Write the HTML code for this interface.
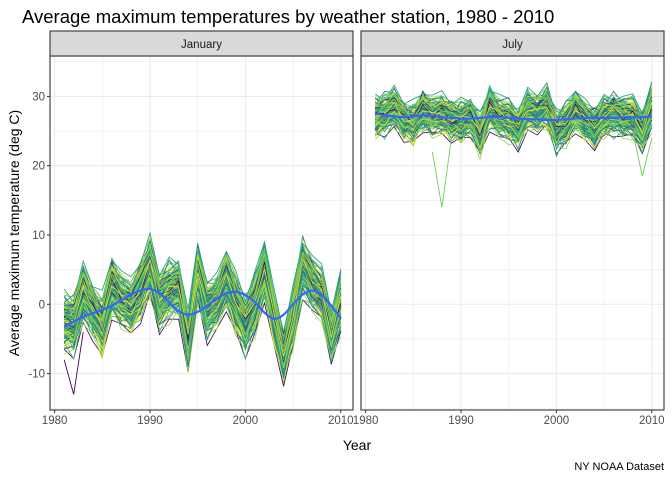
<!DOCTYPE html>
<html><head><meta charset="utf-8"><style>
body{margin:0;background:#fff;}
svg{display:block;font-family:"Liberation Sans",sans-serif;}
</style></head><body>
<svg id="chart" width="672" height="480" viewBox="0 0 672 480">
<rect width="672" height="480" fill="#fff"/>
<text x="22" y="23" font-size="18.5" fill="#000">Average maximum temperatures by weather station, 1980 - 2010</text>
<g id="panels"></g>
<text transform="translate(19,233) rotate(-90)" text-anchor="middle" font-size="14" fill="#000">Average maximum temperature (deg C)</text>
<text x="357" y="450" text-anchor="middle" font-size="14" fill="#000">Year</text>
<text x="664" y="470" text-anchor="end" font-size="11" fill="#000">NY NOAA Dataset</text>
</svg>
<script>
const years = [1981,1982,1983,1984,1985,1986,1987,1988,1989,1990,1991,1992,1993,1994,1995,1996,1997,1998,1999,2000,2001,2002,2003,2004,2005,2006,2007,2008,2009,2010];
const janMean = [-2.6,-3,1.7,-1,-3.2,2.6,0.5,-0.3,2,5.5,0.3,2,2.5,-5.5,4.5,-0.8,0.3,3.6,0,-3,0,5,-2,-7.5,-2,5.5,3,1.5,-4.5,0.3];
const julMean = [27,27.5,28.5,26.5,26,28,27,27.5,26.5,26.5,27,24.5,28.5,27,26.5,25.5,28,27.5,28.5,25,26,28,26.5,25.5,27,27.5,27,27,25,28.5];
const janSmooth = [-3.2,-2.5,-1.8,-1.3,-0.8,-0.2,0.6,1.4,2,2.2,1.6,0.3,-1,-1.5,-1.1,-0.2,0.8,1.6,1.8,1.3,0.3,-1.2,-2.1,-1.5,0,1.4,2,1.4,-0.2,-2];
const julSmooth = [27.5,27.3,27.1,27,27.1,27.3,27.2,27,26.9,26.8,26.8,26.9,27,27,26.9,26.8,26.7,26.7,26.6,26.6,26.7,26.8,26.9,26.9,26.9,26.9,27,27,27,27.1];
const janSpread = [4.5,4.5,4.5,4,4.5,4.5,4,4,4.5,4.5,4.5,4.5,4,4.5,4,4.5,4,4.5,4.5,4.5,4.5,4.5,4,4,4.5,4.5,4,4,4,4.5];
const julSpread = [3,3,3,2.8,2.8,2.9,2.8,3,2.9,3,2.8,2.9,3,3,2.8,2.9,3,2.9,3.1,3,2.9,3.1,2.9,3,2.9,3,2.9,3,3.1,3.2];
const yearAlt = [1,-1,0.5,-0.5,1,-1,1,0.5,-1,1,-0.5,1,-1,0.5,1,-1,0.5,-0.5,1,-1,1,-0.5,0.5,-1,1,-1,0.5,1,-0.5,1];
const stationOffset = [-1,-0.9,-0.8,-0.75,-0.7,-0.62,-0.55,-0.5,-0.45,-0.4,-0.36,-0.3,-0.26,-0.22,-0.18,-0.14,-0.1,-0.06,-0.02,0.02,0.05,0.08,0.12,0.15,0.18,0.22,0.25,0.28,0.32,0.36,0.4,0.44,0.48,0.52,0.56,0.6,0.65,0.7,0.76,0.82,0.88,0.95,-0.33,0.1,0.3,-0.6,0.45,-0.15,0.2,0.62];
const stationWobble = [0.4,-0.6,0.8,-0.3,0.5,-0.9,0.2,0.7,-0.5,0.3,-0.8,0.6,-0.2,0.9,-0.4,0.1,-0.7,0.5,-0.1,0.8,-0.6,0.3,-0.9,0.4,0.7,-0.3,0.2,-0.5,0.6,-0.8,0.1,0.9,-0.4,0.3,-0.7,0.5,-0.2,0.8,-0.6,0.4,-0.1,0.6,-1,1,-0.8,0.9,-0.9,0.7,-0.7,1];
const janOutlier = [[1981,-8],[1982,-13],[1983,-4]];
const julOutlier = [[1987,22],[1988,14],[1989,24]];
const julOutlier2 = [[2008,25],[2009,18.5],[2010,24]];

const ns='http://www.w3.org/2000/svg';
const panels=document.getElementById('panels');
const viridis=['#440154','#482878','#3e4989','#31688e','#26828e','#1f9e89','#35b779','#6ece58','#b5de2b','#fde725'];
function vcol(t){const i=Math.min(8,Math.floor(t*9));const f=t*9-i;const a=viridis[i],b=viridis[i+1];
 const p=s=>[1,3,5].map(k=>parseInt(s.substr(k,2),16));const A=p(a),B=p(b);
 return 'rgb('+A.map((v,k)=>Math.round(v+(B[k]-v)*f)).join(',')+')';}
const yTop=56,yBot=410;
function yS(v){return 304.3-v*6.93;}
function el(tag,attrs,parent){const e=document.createElementNS(ns,tag);for(const k in attrs)e.setAttribute(k,attrs[k]);parent.appendChild(e);return e;}
function smoothPath(pts){let d='M'+pts[0][0]+','+pts[0][1];
 for(let i=0;i<pts.length-1;i++){const p0=pts[i-1]||pts[i],p1=pts[i],p2=pts[i+1],p3=pts[i+2]||p2;
 d+=' C'+(p1[0]+(p2[0]-p0[0])/6)+','+(p1[1]+(p2[1]-p0[1])/6)+' '+(p2[0]-(p3[0]-p1[0])/6)+','+(p2[1]-(p3[1]-p1[1])/6)+' '+p2[0]+','+p2[1];}
 return d;}
function drawPanel(px,label,mean,spread,smooth,outliers,name){
 const g=el('g',{},panels);
 
 
 const w=303;const xS=yr=>px+4.6+(yr-1980)*9.54;
 el('rect',{x:px,y:yTop,width:w,height:yBot-yTop,fill:'#fff'},g);
 for(let v=-15;v<=35;v+=5){const y=yS(v);if(y<yTop||y>yBot)continue;
  const l=el('line',{x1:px,x2:px+w,y1:y,y2:y,stroke:'#ebebeb','stroke-width':v%10===0?1.1:0.6},g);
  
  }
 for(let yr=1980;yr<=2010;yr+=5){const x=xS(yr);
  const l=el('line',{x1:x,x2:x,y1:yTop,y2:yBot,stroke:'#ebebeb','stroke-width':yr%10===0?1.1:0.6},g);
  
  }
 const n=stationOffset.length;
 for(let layer=0;layer<3;layer++){
  stationOffset.forEach((o,s)=>{
   const sc=[1,0.75,0.5][layer], sg=[1,-1,0.6][layer];
   const pts=years.map((yr,i)=>[xS(yr),yS(mean[i]+o*sc*spread[i]+sg*stationWobble[s]*yearAlt[(i+layer*s)%30]*1.6*((i+s+layer)%3===0?1:0.55))]);
   let t=((s*37+layer*11)%n)/(n-1);
   t=Math.pow(t,0.6);
   const p=el('polyline',{points:pts.map(q=>q.join(',')).join(' '),fill:'none',stroke:vcol(t),'stroke-width':0.8},g);
   
   });
 }
 outliers.forEach((o,k)=>{
  const p=el('polyline',{points:o.map(q=>xS(q[0])+','+yS(q[1])).join(' '),fill:'none',stroke:k===0&&name==='january'?'#440154':'#6ece58','stroke-width':0.9},g);
  
  });
 const sm=el('path',{d:smoothPath(years.map((yr,i)=>[xS(yr),yS(smooth[i])])),fill:'none',stroke:'#3366ff','stroke-width':2.2},g);
 
 
 el('rect',{x:px,y:yTop,width:w,height:yBot-yTop,fill:'none',stroke:'#333','stroke-width':1.1},g);
 const st=el('rect',{x:px,y:31,width:w,height:25,fill:'#d9d9d9',stroke:'#333','stroke-width':1.1},g);
 
 
 const tx=el('text',{x:px+w/2,y:48,'text-anchor':'middle','font-size':'11.5',fill:'#1a1a1a'},g);
 tx.textContent=label;
 
 
 for(let yr=1980;yr<=2010;yr+=10){const x=xS(yr);
  el('line',{x1:x,x2:x,y1:yBot,y2:yBot+3,stroke:'#333'},g);
  const t=el('text',{x:x,y:yBot+14,'text-anchor':'middle','font-size':'11.5',fill:'#4d4d4d'},g);
  t.textContent=yr;
  
  }
}
drawPanel(50,'January',janMean,janSpread,janSmooth,[janOutlier],'january');
drawPanel(361,'July',julMean,julSpread,julSmooth,[julOutlier,julOutlier2],'july');
const yTicks=[-10,0,10,20,30];
yTicks.forEach(v=>{const y=yS(v);
 el('line',{x1:47,x2:50,y1:y,y2:y,stroke:'#333'},panels);
 const t=el('text',{x:45,y:y+4,'text-anchor':'end','font-size':'11.5',fill:'#4d4d4d'},panels);
 t.textContent=v;
 
 });
</script>
</body></html>
